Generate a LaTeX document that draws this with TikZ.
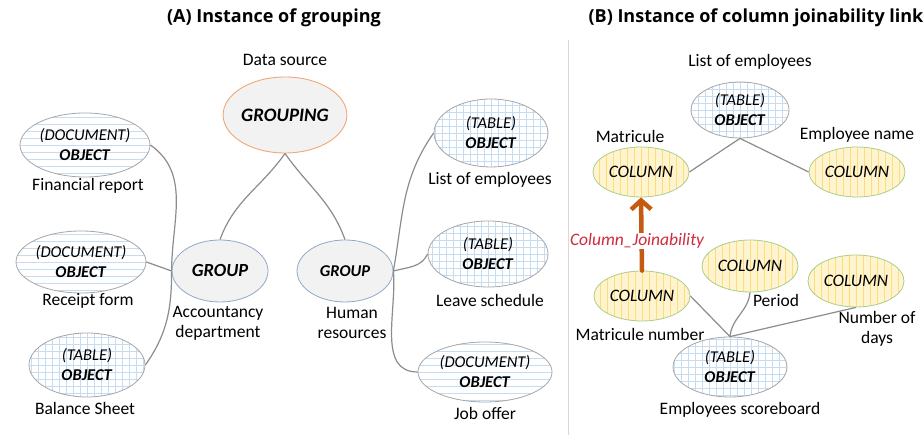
\documentclass[tikz,border=0pt]{standalone}
\usepackage{fontspec}
\setmainfont{Carlito}
\newfontfamily\titlefont{Open Sans}
\usetikzlibrary{shapes.geometric,arrows.meta}
\definecolor{congray}{HTML}{8C8C8C}
\definecolor{objgray}{HTML}{A6A6A6}
\definecolor{patblue}{HTML}{C5DCF2}
\definecolor{grpfill}{HTML}{F2F2F2}
\definecolor{grpborder}{HTML}{F0A878}
\definecolor{gborder}{HTML}{8FA9C8}
\definecolor{colfill}{HTML}{FFF4D0}
\definecolor{colline}{HTML}{FFDB7A}
\definecolor{colborder}{HTML}{A9CF8C}
\definecolor{arrowc}{HTML}{C55A11}
\definecolor{joinred}{HTML}{D02A3C}
\definecolor{sepgray}{HTML}{D9D9D9}
\tikzset{
  con/.style={draw=congray, line width=1.2pt},
  basell/.style={ellipse, inner sep=0pt, align=center},
  obj/.style={basell, draw=objgray, line width=0.8pt, fill=white, font=\fontsize{16.5}{20}\selectfont},
  tableobj/.style={obj, path picture={
      \foreach \k in {-12,...,12} {
        \draw[patblue, line width=0.6pt] ([xshift=\k*7pt]path picture bounding box.north) -- ([xshift=\k*7pt]path picture bounding box.south);
      }
      \foreach \k in {-7,...,7} {
        \draw[patblue, line width=0.6pt] ([yshift=\k*7pt]path picture bounding box.west) -- ([yshift=\k*7pt]path picture bounding box.east);
      }}},
  docobj/.style={obj, path picture={
      \foreach \k in {-7,...,7} {
        \draw[patblue, line width=0.6pt] ([yshift=\k*7pt]path picture bounding box.west) -- ([yshift=\k*7pt]path picture bounding box.east);
      }}},
  colnode/.style={basell, draw=colborder, line width=0.8pt, fill=colfill,
    minimum width=96pt, minimum height=50pt, font=\fontsize{17.5}{20}\selectfont\itshape,
    path picture={
      \foreach \k in {-12,...,12} {
        \draw[colline, line width=0.6pt] ([xshift=\k*7pt]path picture bounding box.north) -- ([xshift=\k*7pt]path picture bounding box.south);
      }}},
  grpnode/.style={basell, draw=gborder, line width=0.8pt, fill=grpfill,
    minimum width=96pt, minimum height=62pt},
  lbl/.style={inner sep=0pt, align=center, font=\fontsize{17.5}{20}\selectfont},
  ttl/.style={inner sep=0pt, font=\titlefont\bfseries\fontsize{18}{20}\selectfont},
}
\newcommand{\objtext}[1]{\textit{(#1)}\\\textbf{\textit{OBJECT}}}
\begin{document}
\begin{tikzpicture}[x=1pt,y=1pt]
\useasboundingbox (0,0) rectangle (923,435);
% titles and separator
\node[ttl] (ta) at (274,417) {(A) Instance of grouping};
\node[ttl] (tb) at (756,417) {(B) Instance of column joinability link};
\draw[sepgray, line width=1pt] (568,395) -- (568,0);

% ---- Panel A ----
\node[basell, draw=grpborder, line width=0.9pt, fill=grpfill, minimum width=114pt, minimum height=76pt,
      font=\fontsize{19}{22}\selectfont\bfseries\itshape] (grouping) at (285,320) {GROUPING};
\node[lbl] (dsl) at (285,375) {Data source};
\node[grpnode, font=\fontsize{18.5}{22}\selectfont\bfseries\itshape] (gl) at (220,164) {GROUP};
\node[grpnode, font=\fontsize{16.5}{22}\selectfont\bfseries\itshape] (gr) at (345,164) {GROUP};
\node[lbl] (gll) at (218,112) {Accountancy\\department};
\node[lbl] (grl) at (352,112) {Human\\resources};

\node[docobj, minimum width=130pt, minimum height=64pt] (fin) at (85,290) {\objtext{DOCUMENT}};
\node[lbl] (finl) at (88,249) {Financial report};
\node[docobj, minimum width=130pt, minimum height=62pt] (rec) at (81,173) {\objtext{DOCUMENT}};
\node[lbl] (recl) at (88,134) {Receipt form};
\node[tableobj, minimum width=116pt, minimum height=64pt] (bal) at (87,70) {\objtext{TABLE}};
\node[lbl] (ball) at (85,27) {Balance Sheet};

\node[tableobj, minimum width=114pt, minimum height=68pt] (lea) at (491,302) {\objtext{TABLE}};
\node[lbl] (leal) at (490,255) {List of employees};
\node[tableobj, minimum width=120pt, minimum height=66pt] (lvs) at (488,181) {\objtext{TABLE}};
\node[lbl] (lvsl) at (490,135) {Leave schedule};
\node[docobj, minimum width=134pt, minimum height=60pt] (job) at (485,63) {\objtext{DOCUMENT}};
\node[lbl] (jobl) at (485,22) {Job offer};

\draw[con] (grouping.south) to[out=-125, in=70] (gl.north);
\draw[con] (grouping.south) to[out=-55, in=110] (gr.north);
\draw[con] (fin.east) to[out=-35, in=90] (gl.west);
\draw[con] (rec.east) -- (gl.west);
\draw[con] (bal.east) to[out=55, in=-90] (gl.west);
\draw[con] (gr.east) to[out=80, in=-125] (lea.west);
\draw[con] (gr.east) to[out=15, in=-115] (lvs.west);
\draw[con] (gr.east) to[out=-85, in=180] (job.west);

% ---- Panel B ----
\node[tableobj, minimum width=98pt, minimum height=56pt] (leb) at (740,325) {\objtext{TABLE}};
\node[lbl] (lebl) at (750,373) {List of employees};
\node[colnode] (mat) at (641,263) {COLUMN};
\node[lbl] (matl) at (630,299) {Matricule};
\node[colnode] (emp) at (857,263) {COLUMN};
\node[lbl] (empl) at (857,300) {Employee name};
\node[colnode] (matn) at (642,139) {COLUMN};
\node[lbl] (matnl) at (640,101) {Matricule number};
\node[colnode, minimum height=52pt] (per) at (750,169) {COLUMN};
\node[lbl] (perl) at (776,135) {Period};
\node[colnode, minimum height=52pt] (nod) at (856,154) {COLUMN};
\node[lbl] (nodl) at (877,106) {Number of\\days};
\node[tableobj, minimum width=114pt, minimum height=60pt] (sb) at (730,68) {\objtext{TABLE}};
\node[lbl] (sbl) at (740,25) {Employees scoreboard};

\draw[con] (leb.south) -- (mat.east);
\draw[con] (leb.south) -- (emp.west);
\draw[con] (sb.north) -- (matn.east);
\draw[con] (sb.north) to[out=85, in=-95] (per.south);
\draw[con] (sb.north) -- (nod.south);

\draw[arrowc, line width=4.5pt, line cap=round, -{Straight Barb[length=9pt, width=20pt]}] (matn.north) -- (mat.south);
\node[inner sep=1pt, fill=white, text=joinred, font=\fontsize{17.5}{20}\selectfont\itshape] (jl) at (637,194) {Column\_Joinability};
\end{tikzpicture}
\end{document}
